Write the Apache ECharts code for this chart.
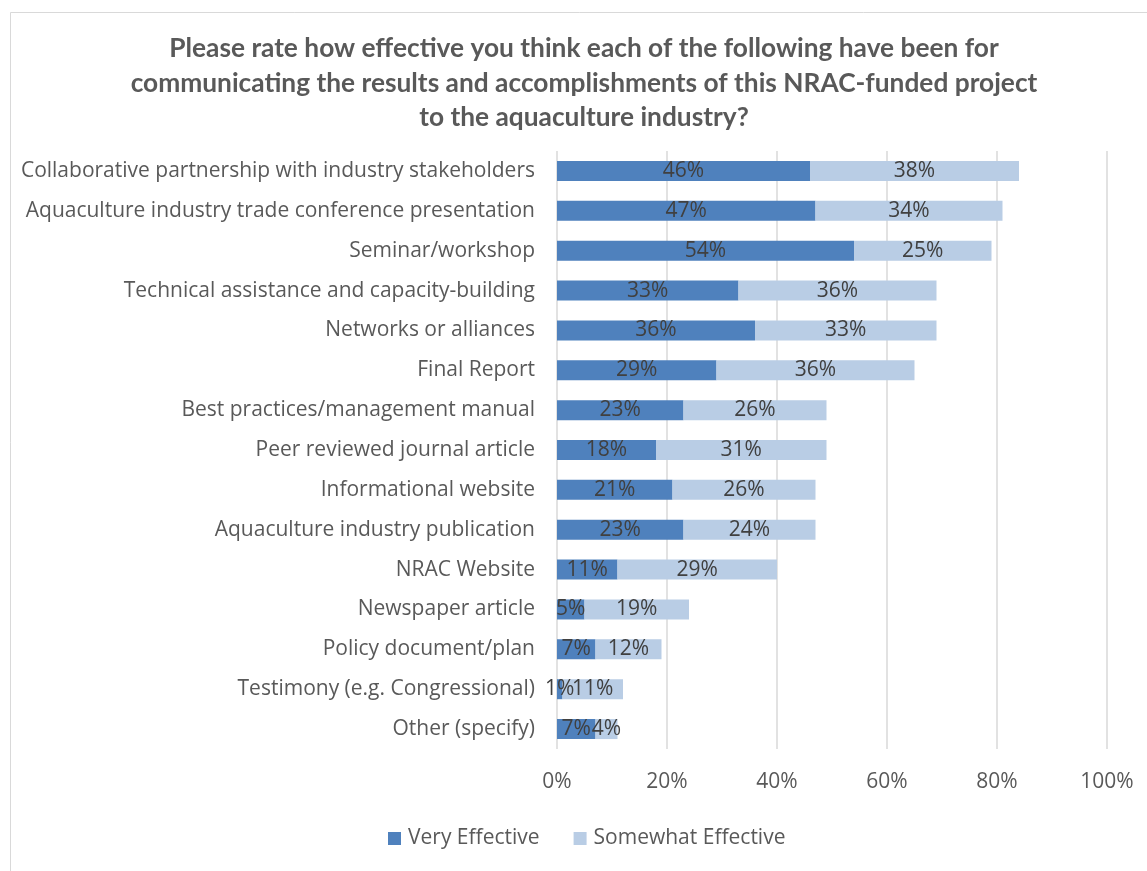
<!DOCTYPE html>
<html>
<head>
<meta charset="utf-8">
<script src="https://cdn.jsdelivr.net/npm/echarts@6/dist/echarts.min.js"></script>
<style>
  html, body { margin: 0; padding: 0; background: #ffffff; }
  #chart { width: 1147px; height: 871px; }
</style>
</head>
<body>
<div id="chart"></div>
<script>
// Communication channels, listed top to bottom
const categories = [
  'Collaborative partnership with industry stakeholders',
  'Aquaculture industry trade conference presentation',
  'Seminar/workshop',
  'Technical assistance and capacity-building',
  'Networks or alliances',
  'Final Report',
  'Best practices/management manual',
  'Peer reviewed journal article',
  'Informational website',
  'Aquaculture industry publication',
  'NRAC Website',
  'Newspaper article',
  'Policy document/plan',
  'Testimony (e.g. Congressional)',
  'Other (specify)'
];

// Share of respondents (%)
const veryEffective     = [46, 47, 54, 33, 36, 29, 23, 18, 21, 23, 11, 5, 7, 1, 7];
const somewhatEffective = [38, 34, 25, 36, 33, 36, 26, 31, 26, 24, 29, 19, 12, 11, 4];

const xTicks = [0, 20, 40, 60, 80, 100];

const titleText = 'Please rate how effective you think each of the following have been for\n' +
  'communicating the results and accomplishments of this NRAC-funded project\n' +
  'to the aquaculture industry?';

const FONT = '"Open Sans", sans-serif';
const TITLE_FONT = 'Lato, sans-serif';
const TEXT_SIZE = 21;

const chart = echarts.init(document.getElementById('chart'), null, { renderer: 'canvas' });

const labelStyle = {
  show: true,
  position: 'inside',
  formatter: p => p.value + '%',
  color: '#404040',
  fontSize: TEXT_SIZE,
  fontFamily: FONT
};

chart.setOption({
  backgroundColor: '#ffffff',
  animation: false,
  graphic: [{
    type: 'rect',
    left: 8, top: 10,
    shape: { width: 1160, height: 880 },
    style: { fill: 'none', stroke: '#d9d9d9', lineWidth: 1 },
    silent: true
  }, {
    // chart heading, centred over the frame
    type: 'text',
    x: 584, y: 31,
    style: {
      text: titleText,
      align: 'center',
      verticalAlign: 'top',
      fill: '#595959',
      fontSize: 26.3,
      fontWeight: 'bold',
      fontFamily: TITLE_FONT,
      lineHeight: 34.8
    },
    silent: true
  }],
  legend: {
    bottom: 17,
    left: 383,
    itemWidth: 13,
    itemHeight: 13,
    itemGap: 34,
    icon: 'rect',
    textStyle: { color: '#595959', fontSize: TEXT_SIZE, fontFamily: FONT, padding: [0, 0, 0, 2] },
    data: ['Very Effective', 'Somewhat Effective']
  },
  grid: { left: 557, right: 40, top: 151, bottom: 122 },
  xAxis: {
    type: 'value',
    min: xTicks[0],
    max: xTicks[xTicks.length - 1],
    interval: 20,
    axisLine: { show: false },
    axisTick: { show: false },
    splitLine: { show: true, lineStyle: { color: '#d9d9d9', width: 1.5 } },
    axisLabel: {
      formatter: '{value}%',
      color: '#595959',
      fontSize: TEXT_SIZE,
      fontFamily: FONT,
      margin: 23
    }
  },
  yAxis: {
    type: 'category',
    inverse: true,
    data: categories,
    axisLine: { show: false },
    axisTick: { show: false },
    axisLabel: {
      color: '#595959',
      fontSize: TEXT_SIZE,
      fontFamily: FONT,
      margin: 22
    }
  },
  series: [
    {
      name: 'Very Effective',
      type: 'bar',
      stack: 'total',
      barWidth: 20,
      data: veryEffective,
      itemStyle: { color: '#4f81bd' },
      label: labelStyle
    },
    {
      name: 'Somewhat Effective',
      type: 'bar',
      stack: 'total',
      barWidth: 20,
      data: somewhatEffective,
      itemStyle: { color: '#b9cde5' },
      label: labelStyle
    }
  ]
});
</script>
</body>
</html>
